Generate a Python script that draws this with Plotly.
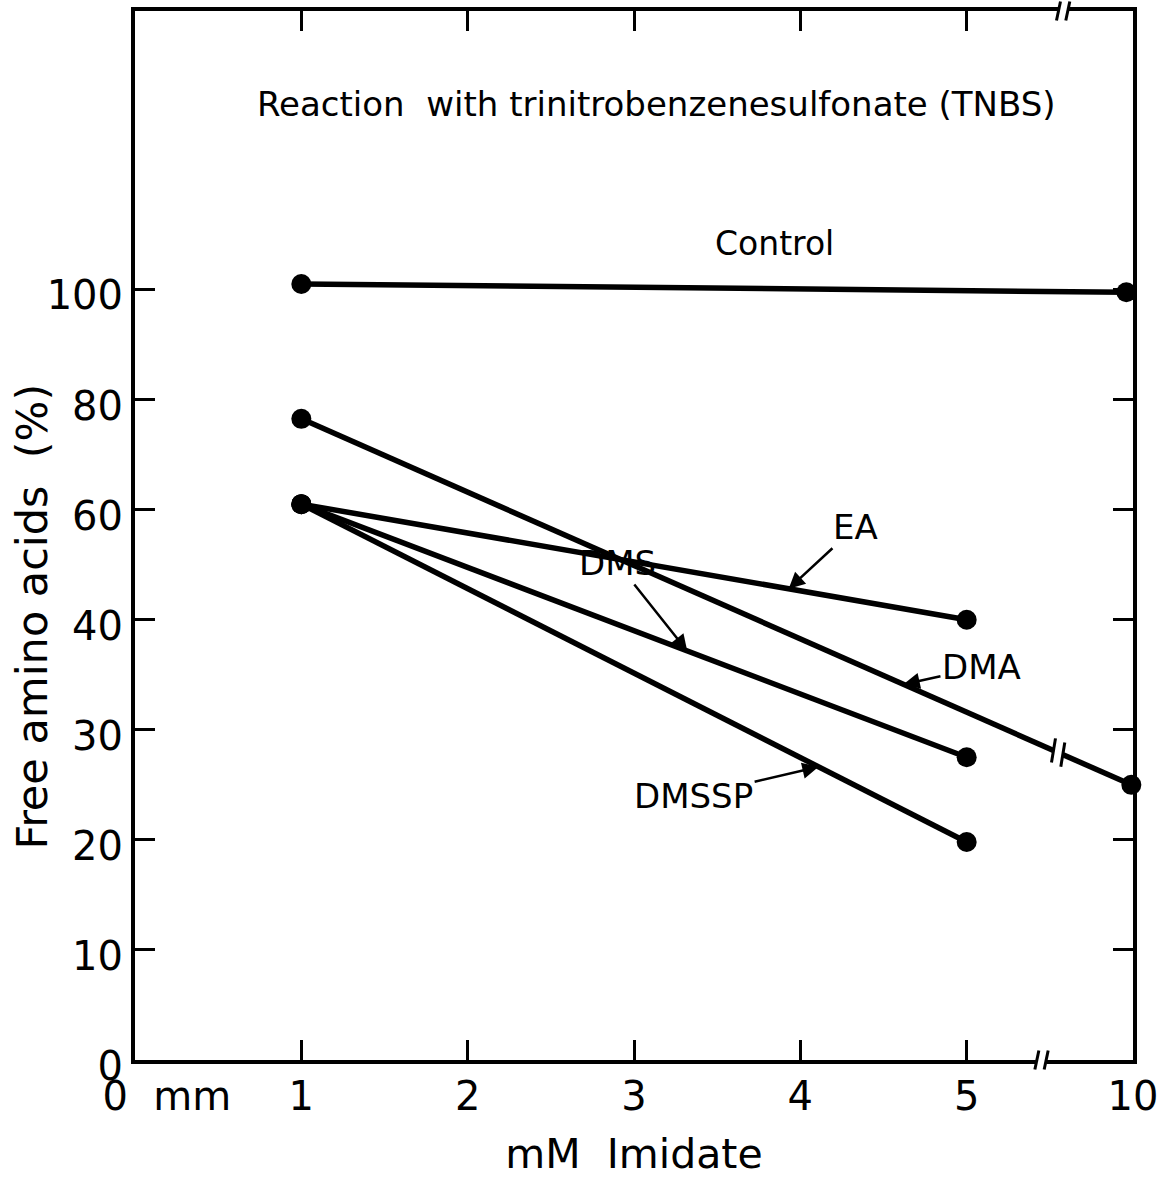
import plotly.graph_objects as go

# ---------------- data ----------------
control_x = [1, 9.8]
control_y = [101, 99.5]
dma_x = [1, 9.95]
dma_y = [76.5, 25]
ea_x = [1, 5]
ea_y = [61, 40]
dms_x = [1, 5]
dms_y = [61, 27.5]
dmssp_x = [1, 5]
dmssp_y = [61, 19.8]

x_tick_values = [0, 1, 2, 3, 4, 5, 10]
x_tick_labels = ["\u00a0" * 5 + "0\u00a0\u00a0mm", "1", "2", "3", "4", "5", "10"]
y_tick_values = [0, 10, 20, 30, 40, 60, 80, 100]
y_tick_labels = ["0", "10", "20", "30", "40", "60", "80", "100"]

series_labels = ["EA", "DMS", "DMA", "DMSSP"]

# ---------------- broken-axis scales ----------------
def xpos(v):
    # linear up to 5 mM, then break: 5 -> 10 mM compressed into one unit
    return v if v <= 5 else 5 + (v - 5) / 5.0


def ypos(v):
    # 0-40 % at 10 %/unit, above 40 % at 20 %/unit
    return v / 10.0 if v <= 40 else 4 + (v - 40) / 20.0


def line_at(xs, ys, xp):
    px = [xpos(v) for v in xs]
    py = [ypos(v) for v in ys]
    t = (xp - px[0]) / (px[1] - px[0])
    return py[0] + t * (py[1] - py[0])


FONT = "DejaVu Sans"
BLACK = "black"

fig = go.Figure()
for xs, ys in [(control_x, control_y), (dma_x, dma_y), (ea_x, ea_y),
               (dms_x, dms_y), (dmssp_x, dmssp_y)]:
    fig.add_trace(go.Scatter(
        x=[xpos(v) for v in xs], y=[ypos(v) for v in ys],
        mode="lines+markers",
        line=dict(color=BLACK, width=5.5),
        marker=dict(color=BLACK, size=20),
        cliponaxis=False,
        showlegend=False, hoverinfo="skip",
    ))

# ---------------- break marks ----------------
BREAK_BOTTOM = 5.45
BREAK_TOP = 5.58
BREAK_DMA = 5.55
shapes = []


def axis_break(xc, yp):
    shapes.append(dict(type="rect", xref="x", yref="paper",
                       x0=xc - 0.03, x1=xc + 0.03, y0=yp - 0.005, y1=yp + 0.005,
                       fillcolor="white", line=dict(width=0), layer="above"))
    for dx in (-0.028, 0.028):
        shapes.append(dict(type="line", xref="x", yref="paper",
                           x0=xc + dx - 0.012, x1=xc + dx + 0.012,
                           y0=yp - 0.009, y1=yp + 0.009,
                           line=dict(color=BLACK, width=3), layer="above"))


axis_break(BREAK_BOTTOM, 0)
axis_break(BREAK_TOP, 1)

yb = line_at(dma_x, dma_y, BREAK_DMA)
slope = (line_at(dma_x, dma_y, BREAK_DMA + 0.05) - yb) / 0.05
shapes.append(dict(type="line", xref="x", yref="y",
                   x0=BREAK_DMA - 0.03, x1=BREAK_DMA + 0.03,
                   y0=yb - 0.03 * slope, y1=yb + 0.03 * slope,
                   line=dict(color="white", width=10), layer="above"))
for dx in (-0.028, 0.028):
    yc = yb + dx * slope
    shapes.append(dict(type="line", xref="x", yref="y",
                       x0=BREAK_DMA + dx - 0.012, x1=BREAK_DMA + dx + 0.012,
                       y0=yc - 0.11, y1=yc + 0.11,
                       line=dict(color=BLACK, width=3), layer="above"))

# ---------------- annotations ----------------
annotations = [
    dict(text="Reaction  with trinitrobenzenesulfonate (TNBS)", xref="paper", yref="paper",
         x=0.523, y=0.932, showarrow=False, font=dict(family=FONT, size=34, color=BLACK)),
    dict(text="Control", xref="paper", yref="paper", x=0.641, y=0.799,
         showarrow=False, font=dict(family=FONT, size=33, color=BLACK)),
    dict(text="Free amino acids  (%)", xref="paper", yref="paper", x=-0.103, y=0.423,
         xanchor="center", yanchor="middle",
         textangle=-90, showarrow=False, font=dict(family=FONT, size=43, color=BLACK)),
]

arrow_specs = [
    (series_labels[0], ea_x, ea_y, 3.93, 67, -62),
    (series_labels[1], dms_x, dms_y, 3.32, -70, -88),
    (series_labels[2], dma_x, dma_y, 4.62, 78, -17),
    (series_labels[3], dmssp_x, dmssp_y, 4.11, -125, 29),
]
for label, xs, ys, xp, ax, ay in arrow_specs:
    annotations.append(dict(
        text=label, x=xp, y=line_at(xs, ys, xp), xref="x", yref="y",
        ax=ax, ay=ay, showarrow=True, arrowhead=2, arrowsize=1.3, arrowwidth=2.5,
        arrowcolor=BLACK, font=dict(family=FONT, size=34, color=BLACK)))

axis_common = dict(
    showline=True, linecolor=BLACK, linewidth=4, mirror="allticks",
    ticks="inside", ticklen=20, tickwidth=3, tickcolor=BLACK,
    showgrid=False, zeroline=False, automargin=False,
    tickfont=dict(family=FONT, size=40, color=BLACK),
)

fig.update_layout(
    template="none",
    width=1160, height=1178,
    margin=dict(l=135, r=27, t=11, b=118),
    paper_bgcolor="white", plot_bgcolor="white",
    showlegend=False,
    xaxis=dict(range=[0, 6.0], tickmode="array",
               tickvals=[xpos(v) for v in x_tick_values], ticktext=x_tick_labels,
               ticklabelstandoff=-2,
               title=dict(text="mM  Imidate", font=dict(family=FONT, size=41, color=BLACK),
                          standoff=22),
               **axis_common),
    yaxis=dict(range=[0, 9.53], tickmode="array",
               tickvals=[ypos(v) for v in y_tick_values], ticktext=y_tick_labels,
               ticklabelshift=6,
               **axis_common),
    shapes=shapes,
    annotations=annotations,
)

fig.write_html(
    "out.html",
    config={"displayModeBar": False},
    post_script="document.body.style.margin='0';document.body.style.overflow='hidden';",
)
